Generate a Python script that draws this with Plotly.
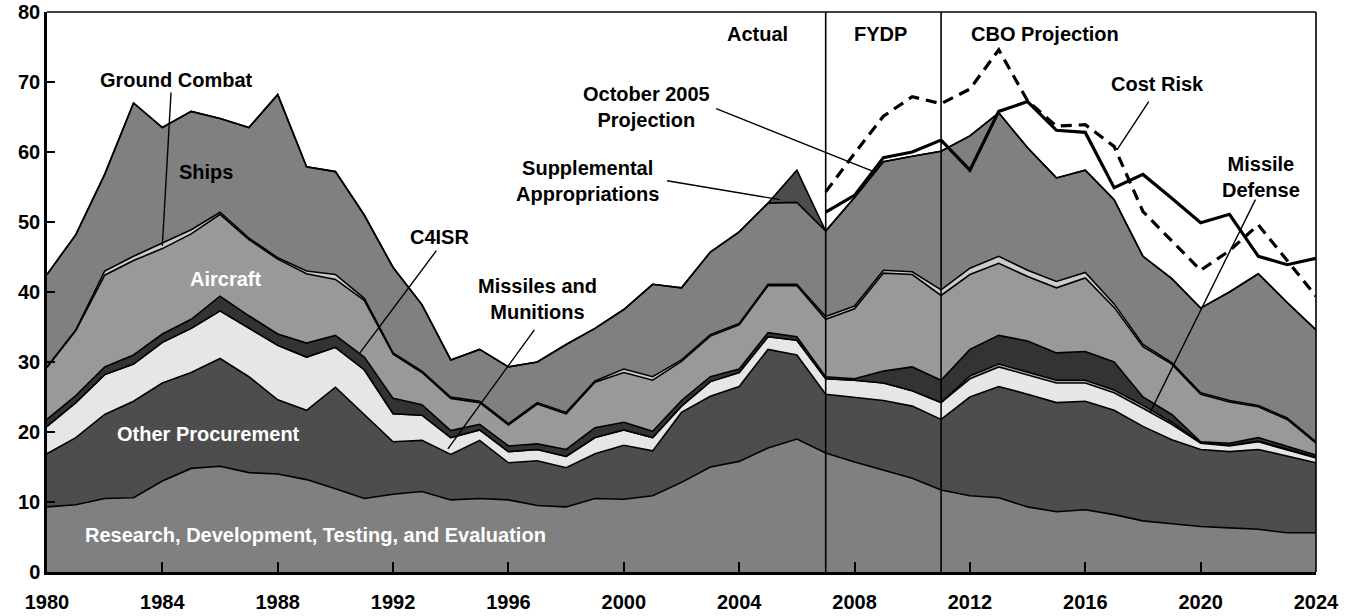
import plotly.graph_objects as go

years = list(range(1980, 2025))

rdte = [9.3, 9.6, 10.5, 10.6, 13.0, 14.8, 15.1, 14.2, 14.0, 13.2,
        11.9, 10.5, 11.1, 11.5, 10.3, 10.5, 10.3, 9.5, 9.3, 10.5,
        10.4, 10.9, 12.8, 15.0, 15.8, 17.7, 19.0, 17.0, 15.7, 14.5,
        13.4, 11.7, 10.9, 10.6, 9.3, 8.6, 8.9, 8.2, 7.3, 6.9,
        6.5, 6.3, 6.1, 5.6, 5.6]
other_proc = [7.6, 9.6, 12.0, 13.8, 14.0, 13.7, 15.4, 13.7, 10.6, 9.9,
              14.5, 12.0, 7.5, 7.3, 6.5, 8.3, 5.3, 6.4, 5.6, 6.4,
              7.7, 6.4, 10.0, 10.1, 10.7, 14.1, 12.0, 8.4, 9.3, 10.0,
              10.3, 10.1, 14.1, 15.9, 16.1, 15.6, 15.5, 14.9, 13.5, 12.0,
              11.0, 10.9, 11.4, 11.0, 10.0]
missiles = [3.9, 5.0, 5.7, 5.3, 5.8, 6.3, 6.8, 6.9, 7.8, 7.6,
            5.7, 6.4, 4.0, 3.6, 2.4, 1.5, 1.6, 1.6, 1.6, 2.3,
            2.2, 1.9, 0.9, 2.1, 2.0, 1.8, 2.1, 2.2, 2.4, 2.5,
            2.2, 2.4, 2.6, 2.8, 2.8, 2.8, 2.6, 2.5, 2.6, 2.2,
            0.9, 0.8, 1.1, 0.9, 0.7]
missile_def = [0, 0, 0, 0, 0, 0, 0, 0, 0, 0,
               0, 0, 0, 0, 0, 0, 0, 0, 0, 0,
               0, 0, 0, 0, 0, 0, 0, 0, 0, 0,
               0, 0, 0.4, 0.4, 0.4, 0.4, 0.4, 0.4, 0.4, 0.3,
               0.1, 0.1, 0.1, 0.1, 0.1]
c4isr = [1.0, 1.0, 1.1, 1.3, 1.2, 1.3, 2.1, 1.8, 1.6, 2.0,
         1.7, 1.8, 2.2, 1.5, 1.0, 0.8, 0.8, 0.8, 1.0, 1.4,
         1.1, 0.9, 0.8, 0.7, 0.5, 0.6, 0.5, 0.3, 0.2, 1.7,
         3.4, 3.2, 3.8, 4.1, 4.4, 3.9, 4.1, 4.0, 1.2, 1.1,
         0.1, 0.3, 0.5, 0.4, 0.3]
aircraft = [7.4, 9.3, 13.1, 13.5, 12.2, 12.2, 11.7, 10.9, 10.7, 9.9,
            8.0, 8.1, 6.3, 4.6, 4.6, 3.1, 3.0, 5.7, 5.1, 6.5,
            7.1, 7.3, 5.6, 5.8, 6.3, 6.7, 7.3, 8.2, 10.0, 14.0,
            13.2, 12.1, 10.7, 10.3, 9.2, 9.3, 10.5, 7.8, 7.2, 7.2,
            6.8, 5.9, 4.4, 3.8, 1.7]
ground_combat = [0.1, 0.1, 0.6, 0.6, 0.8, 0.6, 0.3, 0.2, 0.2, 0.4,
                 0.7, 0.3, 0.2, 0.2, 0.2, 0.2, 0.2, 0.2, 0.2, 0.2,
                 0.5, 0.5, 0.2, 0.2, 0.2, 0.2, 0.2, 0.4, 0.4, 0.4,
                 0.4, 0.8, 0.9, 1.0, 0.9, 0.9, 0.8, 0.5, 0.3, 0.2,
                 0.2, 0.2, 0.2, 0.2, 0.2]
ships = [13.2, 13.6, 13.8, 21.9, 16.5, 16.9, 13.4, 15.8, 23.3, 14.9,
         14.7, 11.9, 12.2, 9.5, 5.3, 7.4, 8.1, 5.8, 9.7, 7.5,
         8.5, 13.2, 10.3, 11.8, 13.1, 11.6, 11.7, 12.2, 15.5, 15.5,
         16.5, 19.8, 18.9, 20.5, 17.5, 14.8, 14.6, 14.9, 12.6, 12.0,
         12.1, 15.5, 18.8, 16.5, 16.0]
supplemental = [0] * 26 + [4.6] + [0] * 18

proj_years = list(range(2007, 2025))
cost_risk = [54.3, 59.8, 65.1, 67.9, 66.9, 69.0, 74.6, 67.3, 63.7, 63.9,
             60.8, 51.5, 47.3, 43.1, 45.9, 49.6, 44.5, 39.4]
oct2005 = [51.4, 53.8, 59.2, 60.0, 61.7, 57.4, 65.8, 67.2, 63.1, 62.8,
           54.9, 56.8, 53.4, 49.9, 51.1, 45.1, 43.9, 44.8]

tick_years = list(range(1980, 2025, 4))
period_bounds = [2007, 2011]

FONT = "Liberation Sans, Arial, sans-serif"

layers = [
    ("RDTE", rdte, "#808080"),
    ("Other Procurement", other_proc, "#4d4d4d"),
    ("Missiles and Munitions", missiles, "#e6e6e6"),
    ("Missile Defense", missile_def, "#a6a6a6"),
    ("C4ISR", c4isr, "#333333"),
    ("Aircraft", aircraft, "#999999"),
    ("Ground Combat", ground_combat, "#cccccc"),
    ("Ships", ships, "#808080"),
    ("Supplemental", supplemental, "#4d4d4d"),
]

fig = go.Figure()
for name, vals, col in layers:
    fig.add_trace(go.Scatter(
        x=years, y=vals, name=name, mode="lines", stackgroup="one",
        line=dict(color="black", width=1.6), fillcolor=col,
        hoverinfo="skip", showlegend=False))

fig.add_trace(go.Scatter(x=proj_years, y=cost_risk, mode="lines",
                         line=dict(color="black", width=3.2, dash="11px,7px"),
                         showlegend=False, hoverinfo="skip"))
fig.add_trace(go.Scatter(x=proj_years, y=oct2005, mode="lines",
                         line=dict(color="black", width=3.2),
                         showlegend=False, hoverinfo="skip"))

shapes = []
for b in period_bounds:
    shapes.append(dict(type="line", xref="x", yref="y", x0=b, x1=b, y0=0, y1=80,
                       line=dict(color="black", width=1.6), layer="above"))
# plot frame top and right
shapes.append(dict(type="line", xref="paper", yref="paper", x0=0, x1=1, y0=1, y1=1,
                   line=dict(color="black", width=1.6), layer="above"))
shapes.append(dict(type="line", xref="paper", yref="paper", x0=1, x1=1, y0=0, y1=1,
                   line=dict(color="black", width=1.6), layer="above"))

pointers = [
    (1984.3, 68.5, 1984.0, 46.6),
    (1993.5, 45.9, 1990.85, 31.3),
    (1996.9, 34.6, 1993.9, 17.6),
    (2001.5, 55.9, 2005.4, 53.2),
    (2003.2, 66.2, 2008.6, 57.3),
    (2018.2, 67.2, 2017.1, 60.3),
    (2021.9, 53.2, 2018.25, 22.8),
]
for x0, y0, x1, y1 in pointers:
    shapes.append(dict(type="line", xref="x", yref="y", x0=x0, y0=y0, x1=x1, y1=y1,
                       line=dict(color="black", width=1.4), layer="above"))

labels = [
    ("Ground Combat", 1984.5, 70.3, "black"),
    ("Ships", 1985.5, 57.2, "black"),
    ("Aircraft", 1986.2, 41.9, "white"),
    ("Other Procurement", 1985.6, 19.7, "white"),
    ("Research, Development, Testing, and Evaluation", 1989.3, 5.35, "white"),
    ("C4ISR", 1993.6, 47.9, "black"),
    ("Missiles and<br>Munitions", 1997.0, 39.0, "black"),
    ("Supplemental<br>Appropriations", 1998.75, 55.8, "black"),
    ("October 2005<br>Projection", 2000.8, 66.5, "black"),
    ("Actual", 2004.65, 76.9, "black"),
    ("FYDP", 2008.9, 76.9, "black"),
    ("CBO Projection", 2014.6, 76.9, "black"),
    ("Cost Risk", 2018.5, 69.7, "black"),
    ("Missile<br>Defense", 2022.1, 56.4, "black"),
]
annotations = []
for txt, x, y, col in labels:
    annotations.append(dict(text=txt, x=x, y=y, xref="x", yref="y", showarrow=False,
                            xanchor="center", yanchor="middle",
                            font=dict(family=FONT, size=20, color=col, weight="bold")))

fig.update_layout(
    width=1354, height=616,
    margin=dict(l=47, r=38, t=12, b=44, autoexpand=False),
    plot_bgcolor="white", paper_bgcolor="white",
    shapes=shapes, annotations=annotations,
    xaxis=dict(range=[1980, 2024], tickvals=tick_years, ticktext=[str(t) for t in tick_years],
               ticks="inside", ticklen=10, tickwidth=1.5, tickcolor="black",
               showline=True, linecolor="black", linewidth=2.5, showgrid=False,
               zeroline=False, ticklabelstandoff=10, automargin=False,
               tickfont=dict(family=FONT, size=20, color="black", weight="bold")),
    yaxis=dict(range=[0, 80], dtick=10, ticks="inside", ticklen=8, tickwidth=1.5,
               tickcolor="black", showline=True, linecolor="black", linewidth=2.5,
               showgrid=False, zeroline=False, automargin=False,
               tickfont=dict(family=FONT, size=20, color="black", weight="bold")),
)

fig.write_html("out.html", config={"displayModeBar": False},
               post_script="document.body.style.margin='0';document.body.style.overflow='hidden';")
